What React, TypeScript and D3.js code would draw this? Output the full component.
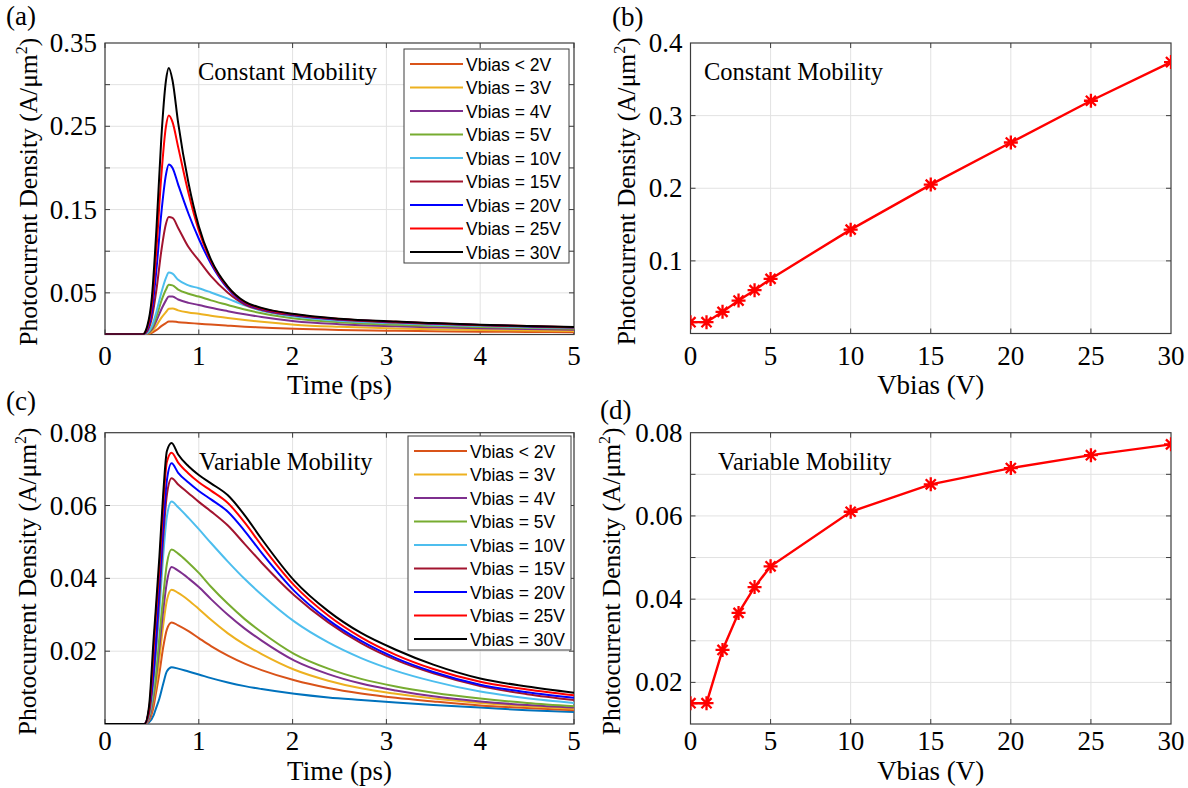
import { useEffect, useRef } from "react";
import * as d3 from "d3";

const SERIF = "'Liberation Serif', 'Times New Roman', Times, serif";
const SANS = "'Liberation Sans', Arial, Helvetica, sans-serif";

// legend entries (same in both time panels)
const legendLabels = [
  "Vbias < 2V",
  "Vbias = 3V",
  "Vbias = 4V",
  "Vbias = 5V",
  "Vbias = 10V",
  "Vbias = 15V",
  "Vbias = 20V",
  "Vbias = 25V",
  "Vbias = 30V",
];
const legendColors = ["#D95319", "#EDB120", "#7E2F8E", "#77AC30", "#4DBEEE", "#A2142F", "#0000FF", "#FF0000", "#000000"];
const extraBlue = "#0072BD";

// (a) constant mobility, time in ps
const timeConst = [0, 0.4, 0.45, 0.5, 0.55, 0.6, 0.65, 0.68, 0.72, 0.78, 0.89, 1.0, 1.13, 1.31, 1.49, 1.67, 2.02, 2.5, 3.1, 3.5, 4.0, 4.5, 5.0];
const constLt2 = [0, 0, 0.0003, 0.002, 0.0055, 0.01, 0.0138, 0.0155, 0.0157, 0.0148, 0.0138, 0.013, 0.0119, 0.0106, 0.0094, 0.0085, 0.0068, 0.0054, 0.0044, 0.0039, 0.0034, 0.0031, 0.0028];
const const3 = [0, 0, 0.0007, 0.004, 0.011, 0.02, 0.027, 0.0308, 0.0312, 0.029, 0.0265, 0.0248, 0.0225, 0.0198, 0.0174, 0.0152, 0.0118, 0.0092, 0.0071, 0.0063, 0.0055, 0.0048, 0.0043];
const const4 = [0, 0, 0.001, 0.006, 0.017, 0.03, 0.041, 0.0456, 0.0455, 0.042, 0.038, 0.0355, 0.032, 0.028, 0.0243, 0.021, 0.016, 0.0124, 0.0098, 0.0086, 0.0075, 0.0066, 0.0058];
const const5 = [0, 0, 0.0015, 0.008, 0.022, 0.04, 0.054, 0.0596, 0.059, 0.054, 0.049, 0.0456, 0.041, 0.0355, 0.03, 0.0255, 0.0192, 0.0148, 0.0118, 0.0104, 0.009, 0.0079, 0.007];
const const10 = [0, 0, 0.002, 0.01, 0.028, 0.05, 0.068, 0.0745, 0.073, 0.0657, 0.059, 0.0556, 0.0505, 0.043, 0.035, 0.0285, 0.0215, 0.0165, 0.0135, 0.0118, 0.0101, 0.0088, 0.0078];
const const15 = [0, 0, 0.004, 0.02, 0.055, 0.1, 0.133, 0.141, 0.14, 0.128, 0.105, 0.089, 0.07, 0.05, 0.036, 0.0295, 0.0228, 0.0177, 0.0145, 0.0128, 0.011, 0.0096, 0.0084];
const const20 = [0, 0, 0.006, 0.028, 0.08, 0.145, 0.192, 0.204, 0.2, 0.18, 0.145, 0.115, 0.085, 0.055, 0.0375, 0.0305, 0.0235, 0.0182, 0.0149, 0.0131, 0.0113, 0.0099, 0.0086];
const const25 = [0, 0, 0.008, 0.037, 0.105, 0.19, 0.25, 0.263, 0.255, 0.225, 0.17, 0.125, 0.088, 0.0565, 0.0385, 0.0312, 0.024, 0.0186, 0.0152, 0.0134, 0.0115, 0.0101, 0.0088];
const const30 = [0, 0, 0.01, 0.045, 0.13, 0.235, 0.305, 0.32, 0.305, 0.254, 0.182, 0.13, 0.09, 0.0576, 0.0395, 0.032, 0.0245, 0.019, 0.0155, 0.0137, 0.0118, 0.0103, 0.009];

// (c) variable mobility
const timeVar = [0, 0.42, 0.47, 0.52, 0.54, 0.58, 0.62, 0.66, 0.71, 0.78, 0.89, 1.0, 1.13, 1.31, 1.49, 1.67, 2.02, 2.38, 2.73, 3.1, 3.5, 4.0, 4.5, 5.0];
const varLow = [0, 0, 0.0005, 0.0025, 0.004, 0.007, 0.011, 0.0145, 0.0156, 0.0152, 0.0144, 0.0136, 0.0126, 0.0114, 0.0104, 0.0096, 0.0083, 0.0073, 0.0066, 0.0059, 0.0052, 0.0045, 0.0038, 0.0033];
const varLt2 = [0, 0, 0.001, 0.005, 0.008, 0.014, 0.021, 0.026, 0.0279, 0.0271, 0.0255, 0.0236, 0.0214, 0.0188, 0.0166, 0.0148, 0.012, 0.0099, 0.0084, 0.0072, 0.0062, 0.0051, 0.0044, 0.0038];
const var3 = [0, 0, 0.0013, 0.007, 0.01, 0.018, 0.027, 0.034, 0.0369, 0.036, 0.034, 0.0316, 0.0286, 0.0249, 0.0218, 0.0192, 0.0149, 0.0119, 0.0098, 0.0083, 0.007, 0.0058, 0.0049, 0.0042];
const var4 = [0, 0, 0.0015, 0.008, 0.012, 0.021, 0.031, 0.039, 0.0431, 0.0421, 0.04, 0.0376, 0.0343, 0.03, 0.0262, 0.0229, 0.0174, 0.0137, 0.0111, 0.0092, 0.0076, 0.0062, 0.0052, 0.0045];
const var5 = [0, 0, 0.002, 0.009, 0.013, 0.024, 0.035, 0.044, 0.0479, 0.0468, 0.0443, 0.0415, 0.0377, 0.033, 0.0288, 0.0252, 0.0192, 0.0152, 0.0124, 0.0103, 0.0086, 0.007, 0.0058, 0.0049];
const var10 = [0, 0, 0.0025, 0.012, 0.018, 0.031, 0.046, 0.057, 0.0611, 0.0595, 0.0566, 0.0535, 0.0497, 0.0446, 0.0398, 0.0355, 0.0281, 0.0224, 0.0181, 0.0146, 0.0117, 0.0089, 0.0071, 0.0058];
const var15 = [0, 0, 0.003, 0.014, 0.02, 0.035, 0.051, 0.063, 0.0675, 0.0658, 0.0634, 0.061, 0.0584, 0.0545, 0.0494, 0.0443, 0.0353, 0.0279, 0.0222, 0.0176, 0.0139, 0.0104, 0.0082, 0.0066];
const var20 = [0, 0, 0.004, 0.015, 0.022, 0.038, 0.054, 0.067, 0.0716, 0.069, 0.0663, 0.064, 0.0617, 0.0583, 0.053, 0.047, 0.0365, 0.0286, 0.0228, 0.0181, 0.0143, 0.0108, 0.0087, 0.0072];
const var25 = [0, 0, 0.004, 0.021, 0.029, 0.043, 0.06, 0.072, 0.0745, 0.0718, 0.0688, 0.0664, 0.0641, 0.0607, 0.0553, 0.049, 0.038, 0.0298, 0.0238, 0.019, 0.0151, 0.0116, 0.0095, 0.0079];
const var30 = [0, 0, 0.005, 0.024, 0.031, 0.046, 0.063, 0.075, 0.0772, 0.074, 0.0708, 0.0684, 0.0661, 0.0628, 0.0573, 0.0508, 0.0393, 0.031, 0.025, 0.0204, 0.0163, 0.0125, 0.0103, 0.0086];

// (b), (d) peak photocurrent vs bias
const biasV = [0, 1, 2, 3, 4, 5, 10, 15, 20, 25, 30];
const peakConst = [0.0156, 0.0156, 0.0298, 0.0454, 0.0596, 0.0752, 0.143, 0.205, 0.263, 0.3205, 0.3737];
const peakVar = [0.015, 0.015, 0.0278, 0.0367, 0.0429, 0.0479, 0.061, 0.0676, 0.0715, 0.0746, 0.0772];

const constCurves = [constLt2, const3, const4, const5, const10, const15, const20, const25, const30];
const varCurves = [varLow, varLt2, var3, var4, var5, var10, var15, var20, var25, var30];
const varColors = [extraBlue, ...legendColors];

function frame(svg, o) {
  const { x, y } = o;
  const [x0, x1] = x.range();
  const [y1, y0] = y.range();

  const grid = svg.append("g").attr("stroke", "#e2e2e2").attr("stroke-width", 1);
  grid
    .selectAll(".gx")
    .data(o.xGrid)
    .join("line")
    .attr("x1", (d) => x(d))
    .attr("x2", (d) => x(d))
    .attr("y1", y0)
    .attr("y2", y1);
  grid
    .selectAll(".gy")
    .data(o.yGrid)
    .join("line")
    .attr("x1", x0)
    .attr("x2", x1)
    .attr("y1", (d) => y(d))
    .attr("y2", (d) => y(d));

  // inward ticks on all four sides
  const tk = svg.append("g").attr("stroke", "#3c3c3c").attr("stroke-width", 1);
  o.xGrid.forEach((d) => {
    tk.append("line").attr("x1", x(d)).attr("x2", x(d)).attr("y1", y1).attr("y2", y1 - 5);
    tk.append("line").attr("x1", x(d)).attr("x2", x(d)).attr("y1", y0).attr("y2", y0 + 5);
  });
  o.yGrid.forEach((d) => {
    tk.append("line").attr("x1", x0).attr("x2", x0 + 5).attr("y1", y(d)).attr("y2", y(d));
    tk.append("line").attr("x1", x1).attr("x2", x1 - 5).attr("y1", y(d)).attr("y2", y(d));
  });
  svg
    .append("rect")
    .attr("x", x0)
    .attr("y", y0)
    .attr("width", x1 - x0)
    .attr("height", y1 - y0)
    .attr("fill", "none")
    .attr("stroke", "#3c3c3c")
    .attr("stroke-width", 1.2);

  const txt = svg.append("g").attr("font-family", SERIF).attr("fill", "#000");
  txt
    .selectAll(".xl")
    .data(o.xLabels)
    .join("text")
    .attr("x", (d) => x(d))
    .attr("y", o.xTickY)
    .attr("text-anchor", "middle")
    .attr("font-size", 27)
    .text((d) => d);
  txt
    .selectAll(".yl")
    .data(o.yLabels)
    .join("text")
    .attr("x", x0 - 8)
    .attr("y", (d) => y(d) + 9)
    .attr("text-anchor", "end")
    .attr("font-size", 27)
    .text(o.yFmt);

  txt
    .append("text")
    .attr("x", (x0 + x1) / 2)
    .attr("y", o.xTitleY)
    .attr("text-anchor", "middle")
    .attr("font-size", 27)
    .text(o.xTitle);

  const yt = txt
    .append("text")
    .attr("transform", `translate(${o.yTitleX},${(y0 + y1) / 2 + 3}) rotate(-90)`)
    .attr("text-anchor", "middle")
    .attr("font-size", 25.5);
  yt.append("tspan").text("Photocurrent Density (A/\u03bcm");
  yt.append("tspan").attr("font-size", 16).attr("dy", -10).text("2");
  yt.append("tspan").attr("dy", 10).text(")");

  txt.append("text").attr("x", o.letter[0]).attr("y", o.letter[1]).attr("font-size", 27).text(o.letter[2]);
  txt.append("text").attr("x", o.note[0]).attr("y", o.note[1]).attr("font-size", 24.5).text(o.note[2]);

  svg
    .append("clipPath")
    .attr("id", o.clipId)
    .append("rect")
    .attr("x", x0)
    .attr("y", y0)
    .attr("width", x1 - x0)
    .attr("height", y1 - y0);
  return svg.append("g").attr("clip-path", `url(#${o.clipId})`);
}

function legend(svg, bx, by, bw, bh) {
  const g = svg.append("g");
  g.append("rect")
    .attr("x", bx)
    .attr("y", by)
    .attr("width", bw)
    .attr("height", bh)
    .attr("fill", "#fff")
    .attr("stroke", "#3c3c3c")
    .attr("stroke-width", 1);
  legendLabels.forEach((lab, i) => {
    const cy = by + 15 + i * 23.5;
    g.append("line")
      .attr("x1", bx + 6)
      .attr("x2", bx + 59)
      .attr("y1", cy)
      .attr("y2", cy)
      .attr("stroke", legendColors[i])
      .attr("stroke-width", 2);
    g.append("text")
      .attr("x", bx + 62)
      .attr("y", cy + 6.5)
      .attr("font-family", SANS)
      .attr("font-size", 17.5)
      .attr("fill", "#000")
      .text(lab);
  });
}

function star(r) {
  const k = r * 0.72;
  return `M${-r},0L${r},0M0,${-r}L0,${r}M${-k},${-k}L${k},${k}M${-k},${k}L${k},${-k}`;
}

function draw(node) {
  const svg = d3.select(node);
  svg.selectAll("*").remove();

  // (a)
  const xa = d3.scaleLinear().domain([0, 5]).range([105, 574]);
  const ya = d3.scaleLinear().domain([0, 0.35]).range([334.5, 43]);
  const pa = frame(svg, {
    x: xa,
    y: ya,
    xGrid: [0, 1, 2, 3, 4, 5],
    yGrid: [0.05, 0.1, 0.15, 0.2, 0.25, 0.3],
    xLabels: [0, 1, 2, 3, 4, 5],
    yLabels: [0.05, 0.15, 0.25, 0.35],
    yFmt: d3.format(".2f"),
    xTickY: 365,
    xTitle: "Time (ps)",
    xTitleY: 394,
    yTitleX: 37,
    letter: [6, 25, "(a)"],
    note: [198, 80, "Constant Mobility"],
    clipId: "clipA",
  });
  const la = d3
    .line()
    .x((d) => xa(d[0]))
    .y((d) => ya(d[1]))
    .curve(d3.curveMonotoneX);
  constCurves.forEach((vals, i) => {
    pa.append("path")
      .datum(timeConst.map((t, j) => [t, vals[j]]))
      .attr("d", la)
      .attr("fill", "none")
      .attr("stroke", legendColors[i])
      .attr("stroke-width", 2);
  });
  legend(svg, 404, 49, 165, 214);

  // (c)
  const xc = d3.scaleLinear().domain([0, 5]).range([105, 574]);
  const yc = d3.scaleLinear().domain([0, 0.08]).range([724, 432.7]);
  const pc = frame(svg, {
    x: xc,
    y: yc,
    xGrid: [0, 1, 2, 3, 4, 5],
    yGrid: [0.02, 0.04, 0.06],
    xLabels: [0, 1, 2, 3, 4, 5],
    yLabels: [0.02, 0.04, 0.06, 0.08],
    yFmt: d3.format(".2f"),
    xTickY: 750,
    xTitle: "Time (ps)",
    xTitleY: 780,
    yTitleX: 36,
    letter: [6, 410, "(c)"],
    note: [199, 470, "Variable Mobility"],
    clipId: "clipC",
  });
  const lc = d3
    .line()
    .x((d) => xc(d[0]))
    .y((d) => yc(d[1]))
    .curve(d3.curveMonotoneX);
  varCurves.forEach((vals, i) => {
    pc.append("path")
      .datum(timeVar.map((t, j) => [t, vals[j]]))
      .attr("d", lc)
      .attr("fill", "none")
      .attr("stroke", varColors[i])
      .attr("stroke-width", 2);
  });
  legend(svg, 408, 436, 163, 214);

  // (b) and (d)
  const biasPanel = (yScale, peaks, o) => {
    const xs = d3.scaleLinear().domain([0, 30]).range([690.5, 1171]);
    const p = frame(svg, {
      x: xs,
      y: yScale,
      xGrid: [5, 10, 15, 20, 25],
      ...o,
      xLabels: [0, 5, 10, 15, 20, 25, 30],
      xTitle: "Vbias (V)",
    });
    const line = d3
      .line()
      .x((d) => xs(d[0]))
      .y((d) => yScale(d[1]));
    const pts = biasV.map((v, i) => [v, peaks[i]]);
    p.append("path").datum(pts).attr("d", line).attr("fill", "none").attr("stroke", "#FF0000").attr("stroke-width", 2.4);
    p.selectAll(".m")
      .data(pts)
      .join("path")
      .attr("transform", (d) => `translate(${xs(d[0])},${yScale(d[1])})`)
      .attr("d", star(7))
      .attr("fill", "none")
      .attr("stroke", "#FF0000")
      .attr("stroke-width", 2.3);
  };

  biasPanel(d3.scaleLinear().domain([0, 0.4]).range([333.5, 43]), peakConst, {
    yGrid: [0.1, 0.2, 0.3],
    yLabels: [0.1, 0.2, 0.3, 0.4],
    yFmt: d3.format(".1f"),
    xTickY: 365,
    xTitleY: 394,
    yTitleX: 635,
    letter: [612, 26, "(b)"],
    note: [704, 80, "Constant Mobility"],
    clipId: "clipB",
  });
  biasPanel(d3.scaleLinear().domain([0.01, 0.08]).range([724, 432.7]), peakVar, {
    yGrid: [0.02, 0.03, 0.04, 0.05, 0.06, 0.07],
    yLabels: [0.02, 0.04, 0.06, 0.08],
    yFmt: d3.format(".2f"),
    xTickY: 750,
    xTitleY: 780,
    yTitleX: 620,
    letter: [600, 419, "(d)"],
    note: [718, 470, "Variable Mobility"],
    clipId: "clipD",
  });
}

export default function App() {
  const ref = useRef(null);
  useEffect(() => {
    if (ref.current) draw(ref.current);
  }, []);
  return (
    <svg
      ref={ref}
      width={1188}
      height={788}
      style={{ position: "absolute", left: 0, top: 0, background: "#fff", display: "block" }}
    />
  );
}
